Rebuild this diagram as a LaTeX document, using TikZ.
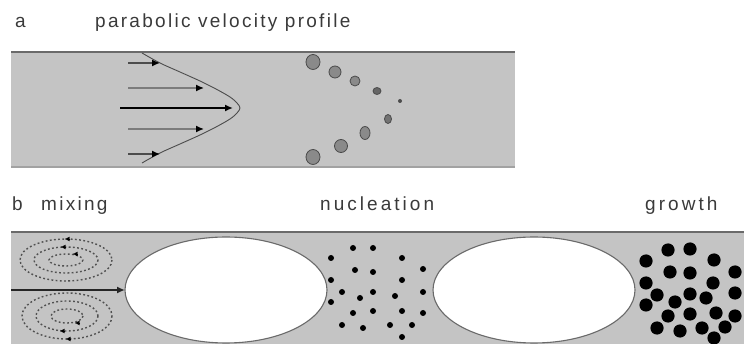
\documentclass[tikz,border=0pt]{standalone}
\usepackage{fontspec}
\setmainfont{Liberation Sans}
\usetikzlibrary{shapes.geometric,arrows.meta}

\definecolor{tubefill}{HTML}{C4C4C4}
\definecolor{wallDark}{HTML}{6A6A6A}
\definecolor{wallLight}{HTML}{A2A2A2}
\definecolor{labelgray}{HTML}{3A3A3A}
\definecolor{particle}{HTML}{8A8A8A}
\definecolor{particleedge}{HTML}{4A4A4A}
\definecolor{shaftgray}{HTML}{7C7C7C}
\definecolor{loopgray}{HTML}{505050}

\begin{document}
\begin{tikzpicture}[x=1pt,y=-1pt,
  lbl/.style={anchor=base west, inner sep=0, text=labelgray,
    font=\fontsize{19}{22}\selectfont\addfontfeatures{LetterSpace=#1}},
  lbl/.default=0,
  profile/.style={draw=black!70, line width=0.9pt},
  vel/.style={line width=1.4pt, -{Latex[length=8pt,width=7pt,fill=black,color=black]}},
  particle/.style={fill=particle, draw=particleedge, line width=0.8pt},
  droplet/.style={ellipse, draw=wallDark, line width=1.1pt, fill=white,
    inner sep=0pt, outer sep=0pt, minimum width=202pt, minimum height=106pt},
  vortex/.style={draw=loopgray, line width=1.4pt, dash pattern=on 1.8pt off 2.4pt},
  loopmark/.style={line width=0.1pt, -{Latex[length=4.5pt,width=4.5pt]}},
  nucleus/.style={fill=black},
  crystal/.style={fill=black},
]
\useasboundingbox (0,0) rectangle (744,344);

% ---------- panel a: parabolic velocity profile ----------
\node[lbl] (tagA) at (15,28) {a};
\node[lbl=12] (titleA) at (95,28) {parabolic velocity profile};

\fill[tubefill] (11,52) rectangle (515,167);
\draw[wallDark, line width=2.5pt] (11,52) -- (515,52);
\draw[wallLight, line width=2pt] (11,167) -- (515,167);
\draw[white, line width=1pt] (515.5,52) -- (515.5,167);

% profile front
\draw[profile] plot[smooth, tension=0.55] coordinates {
  (142,53) (160,63) (180,72) (200,81) (216,89) (230,97) (237,103) (240,108)
  (237,113) (230,119) (216,127) (200,135) (180,144) (160,153) (142,163)};

% velocity vectors
\coordinate (v1s) at (128,63);  \coordinate (v1e) at (160,63);
\coordinate (v2s) at (128,88);  \coordinate (v2e) at (204,88);
\coordinate (v3s) at (120,108); \coordinate (v3e) at (233,108);
\coordinate (v4s) at (128,129); \coordinate (v4e) at (204,129);
\coordinate (v5s) at (128,154); \coordinate (v5e) at (160,154);
\draw[vel, draw=black!70] (v1s) -- (v1e);
\draw[vel, draw=shaftgray] (v2s) -- (v2e);
\draw[vel, draw=black, line width=1.9pt] (v3s) -- (v3e);
\draw[vel, draw=shaftgray] (v4s) -- (v4e);
\draw[vel, draw=black!70] (v5s) -- (v5e);

% particles spreading along the profile
\draw[particle] (313,62) ellipse [x radius=7, y radius=7.5];
\draw[particle] (335,72) ellipse [x radius=6, y radius=6];
\draw[particle] (355,81) ellipse [x radius=5, y radius=5];
\draw[particle, fill=black!60] (377,91) ellipse [x radius=4, y radius=3.5];
\fill[black!70] (400,101) circle (2);
\draw[particle, fill=black!55] (388,119) ellipse [x radius=3.5, y radius=4.5];
\draw[particle] (365,133) ellipse [x radius=5, y radius=6.5];
\draw[particle] (341,146) ellipse [x radius=6.5, y radius=6.5];
\draw[particle] (313,157) ellipse [x radius=7, y radius=7.5];

% ---------- panel b: mixing, nucleation, growth ----------
\node[lbl] (tagB) at (12,211) {b};
\node[lbl=12] (mixLbl) at (41,211) {mixing};
\node[lbl=16] (nucLbl) at (320,211) {nucleation};
\node[lbl=16] (growLbl) at (645,211) {growth};

\fill[tubefill] (11,232) rectangle (744,344);
\draw[wallDark, line width=2.5pt] (11,232) -- (744,232);

\node[droplet] (drop1) at (226,290) {};
\node[droplet] (drop2) at (534,290) {};

% recirculation loops
\draw[vortex] (66,260) ellipse [x radius=46, y radius=21];
\draw[vortex] (66,260) ellipse [x radius=32, y radius=13];
\draw[vortex] (66,260) ellipse [x radius=17, y radius=6];
\draw[vortex] (67,316) ellipse [x radius=45, y radius=23];
\draw[vortex] (67,316) ellipse [x radius=31, y radius=15];
\draw[vortex] (67,316) ellipse [x radius=16, y radius=7];
\coordinate (m1a) at (70,239); \coordinate (m1b) at (65,239);
\coordinate (m2a) at (66,247); \coordinate (m2b) at (61,247);
\coordinate (m3a) at (78,254); \coordinate (m3b) at (73,254);
\coordinate (m4a) at (71,339); \coordinate (m4b) at (66,339);
\coordinate (m5a) at (65,331); \coordinate (m5b) at (60,331);
\coordinate (m6a) at (80,323); \coordinate (m6b) at (75,323);
\foreach \s/\e in {m1a/m1b, m2a/m2b, m3a/m3b, m4a/m4b, m5a/m5b, m6a/m6b}
  \draw[loopmark] (\s) -- (\e);

% inlet flow
\coordinate (inlet) at (11,290);
\draw[black!85, line width=1.6pt, -{Latex[length=8pt,width=7pt]}] (inlet) -- (drop1.west);

% nuclei
\foreach \p in {(353,248),(373,248),(331,258),(402,258),(355,270),(373,272),
  (423,269),(331,280),(402,280),(342,292),(360,298),(373,292),(395,296),
  (423,292),(331,302),(353,313),(373,311),(402,311),(423,313),(342,325),
  (363,328),(390,325),(412,325),(402,337)}
  \fill[nucleus] \p circle (3);

% grown crystals
\foreach \p in {(668,250),(690,249),(646,261),(714,260),(670,272),(690,273),
  (735,272),(646,283),(713,283),(657,295),(690,294),(706,298),(735,293),
  (675,302),(646,305),(668,316),(690,314),(716,313),(735,316),(657,328),
  (680,331),(702,328),(725,327),(714,338)}
  \fill[crystal] \p circle (6.6);
\end{tikzpicture}
\end{document}
